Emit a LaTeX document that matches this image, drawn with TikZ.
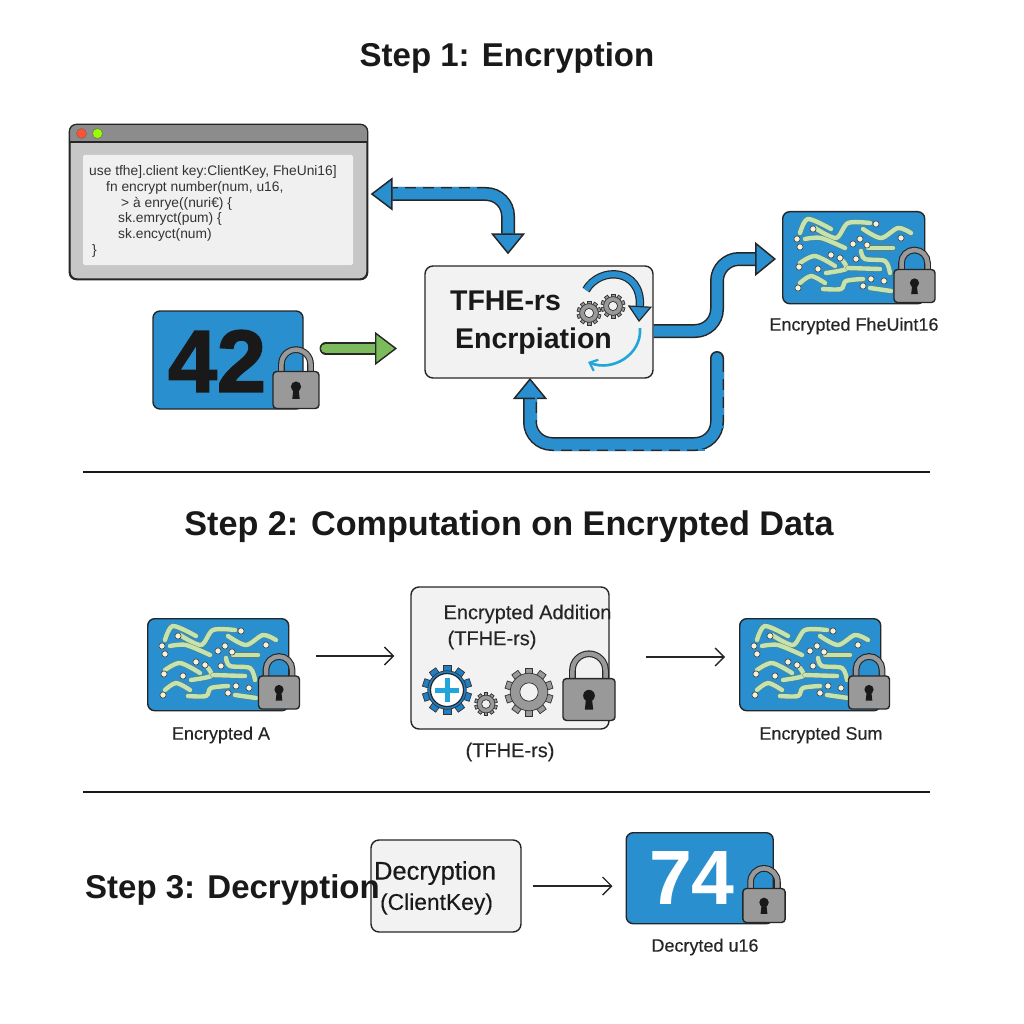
\documentclass[tikz,border=0pt]{standalone}
\usepackage{fontspec}
\setmainfont{Liberation Sans}
\newfontfamily\medfont[FakeBold=0.5]{Liberation Sans}
\newfontfamily\capfont[FakeBold=0.25]{Liberation Sans}
\newfontfamily\heavyfont[FakeBold=2]{Liberation Sans Bold}
\usetikzlibrary{arrows.meta}
\definecolor{cardblue}{HTML}{2A8FCF}
\definecolor{lockgrey}{HTML}{999999}
\definecolor{gearblue}{HTML}{1F7FC4}
\definecolor{paperbox}{HTML}{F2F2F2}
\definecolor{noisegreen}{HTML}{C5E3AE}
\definecolor{leafgreen}{HTML}{7CBB5C}
\definecolor{noisedot}{HTML}{F3F3DC}
\newcommand{\fsz}[1]{\fontsize{#1}{#1}\selectfont}

\tikzset{
    roundbox/.style={draw=black!85,line width=1.4,fill=paperbox,rounded corners=8,inner sep=0},
    cardbox/.style={draw=black!85,line width=1.4,fill=cardblue,rounded corners=7,inner sep=0},
    title/.style={font=\bfseries\fsz{33},text=black!90,inner sep=0},
    caption/.style={font=\capfont\fsz{18},text=black!85,inner sep=0},
    codeline/.style={font=\fsz{13.8},text=black!80,anchor=west,inner sep=0},
    thinarrow/.style={draw=black!85,line width=1.3,-{Straight Barb[length=9,width=18,line width=1.3]}},
    fatarrow/.style={draw=black!85,line width=1.5,double=cardblue,double distance=11,rounded corners=22,
        -{Triangle[length=21,width=34,color=black!85,fill=cardblue,line width=1.5]}},
    dashover/.style={draw=cardblue,line width=1.9,dash pattern=on 7 off 11},
    wiggle/.style={draw=noisegreen!55!black,line width=.4,double=noisegreen,double distance=4.4,line cap=round},
    speck/.style={draw=black!70,line width=.7,fill=noisedot},
    pics/padlock/.style={code={
        \draw[draw=black!85,line width=1.1,double=lockgrey,double distance=4.5] (-13,-15) -- (-13,-23) arc (180:360:13) -- (13,-15);
        \draw[draw=black!85,line width=1.4,fill=lockgrey,rounded corners=3.5] (-20.5,-16.5) rectangle (20.5,16.5);
        \fill[black!90] (0,-3) circle (4.6);
        \fill[black!90] (-2.2,-2) -- (2.2,-2) -- (3.3,8) -- (-3.3,8) -- cycle;
    }},
    pics/cogwheel/.style={code={
        \foreach \a in {0,36,...,324}
            \draw[rotate=\a,draw=black!80,line width=.7,fill=#1] (-1.9,-12) rectangle (1.9,-7);
        \draw[draw=black!80,line width=.7,fill=#1] (0,0) circle (9.4);
        \draw[draw=black!80,line width=.7,fill=paperbox] (0,0) circle (4.6);
    }},
    pics/cipher/.style={code={
        \draw[wiggle] plot[smooth] coordinates {(18,22) (26,8) (49,18)};
        \draw[wiggle] plot[smooth] coordinates {(33,17) (54,27) (66,12) (88,12)};
        \draw[wiggle] plot[smooth] coordinates {(23,28) (39,27) (63,37)};
        \draw[wiggle] plot[smooth] coordinates {(81,18) (99,27) (116,17) (129,22)};
        \draw[wiggle] plot[smooth] coordinates {(86,37) (111,37)};
        \draw[wiggle] plot[smooth] coordinates {(18,52) (33,45) (53,55)};
        \draw[wiggle] plot[smooth] coordinates {(44,62) (64,58) (61,50)};
        \draw[wiggle] plot[smooth] coordinates {(66,57) (98,58)};
        \draw[wiggle] plot[smooth] coordinates {(79,40) (83,48) (103,50) (108,62)};
        \draw[wiggle] plot[smooth] coordinates {(18,72) (29,65) (43,72)};
        \draw[wiggle] plot[smooth] coordinates {(41,78) (59,78) (64,70) (81,68)};
        \draw[wiggle] plot[smooth] coordinates {(88,77) (109,80)};
        \foreach \p in {(94,13),(31,18),(15,28),(18,36),(71,33),(78,28),(85,34),(119,27),(49,44),(58,47),(74,48),(17,56),(36,58),(16,77),(81,75),(89,68),(102,70)}
            \draw[speck] \p circle (3.1);
    }}
}

\begin{document}
\begin{tikzpicture}[x=1pt,y=-1pt]
    \useasboundingbox (0,0) rectangle (1024,1024);
    \fill[white] (0,0) rectangle (1024,1024);

    %titles and rules:
    \node[title] (stepa) at (507,58) {Step 1: Encryption};
    \node[title,font=\bfseries\fsz{34.2}] (stepb) at (509,527) {Step 2: Computation on Encrypted Data};
    \draw[black!90,line width=1.5] (83,472) -- (930,472);
    \draw[black!90,line width=1.5] (83,792) -- (930,792);

    %code window:
    \node[draw=black!85,line width=1.3,fill=black!22,rounded corners=7,inner sep=0,minimum width=297,minimum height=154] (win) at (218.5,202) {};
    \begin{scope}
        \clip[rounded corners=7] (win.north west) rectangle (win.south east);
        \fill[black!45] (70,125) rectangle (367,142);
    \end{scope}
    \draw[draw=black!85,line width=1.3,rounded corners=7] (win.north west) rectangle (win.south east);
    \draw[black!85,line width=1.2] (70,142) -- (367,142);
    \fill[black!6,rounded corners=2] (83,155) rectangle (353,265);
    \draw[black!60,fill=red!70!orange!80] (81.5,133.5) circle (5);
    \draw[black!60,fill=lime!80!green] (97.5,133.5) circle (5);
    \node[codeline] (codea) at (89,172) {use tfhe].client key:ClientKey, FheUni16]};
    \node[codeline] (codeb) at (106,188) {fn encrypt number(num, u16,};
    \node[codeline] (codec) at (121,204) {> à enrye((nuri€) \{};
    \node[codeline] (coded) at (118,219) {sk.emryct(pum) \{};
    \node[codeline] (codee) at (118,235) {sk.encyct(num)};
    \node[codeline] (codef) at (92,251) {\}};

    %plain number:
    \node[cardbox,minimum width=150,minimum height=98] (plain) at (228,360) {};
    \node[inner sep=0,font=\heavyfont\fsz{88},text=black!90] (plainnum) at (217,361) {42};
    \pic[scale=1.12] at (296,390) {padlock={}};

    %encryption box:
    \node[roundbox,minimum width=228,minimum height=112] (tfhe) at (539,322) {};
    \node[inner sep=0,font=\bfseries\fsz{28.5},text=black!90] (tfhea) at (505.5,301) {TFHE-rs};
    \node[inner sep=0,font=\bfseries\fsz{28.5},text=black!90] (tfheb) at (533.5,341) {Encrpiation};
    \pic[scale=1] at (589,313) {cogwheel=lockgrey};
    \pic[scale=1] at (613,306) {cogwheel=lockgrey};
    \coordinate (spina) at (586,290);
    \coordinate (spinb) at (639,322);
    \draw[draw=black!85,line width=1.2,double=cardblue,double distance=6,
        -{Triangle[length=16,width=24,color=black!85,fill=cardblue,line width=1.2]}]
        (spina) .. controls (600,266) and (642,268) .. (spinb);
    \coordinate (spinc) at (640,328);
    \coordinate (spind) at (588,362);
    \draw[cardblue!80!cyan,line width=2.6,-{Straight Barb[length=7,width=12,line width=2.2]}]
        (spinc) .. controls (642,355) and (612,372) .. (spind);

    %encrypted result:
    \node[cardbox,minimum width=142,minimum height=92,anchor=north west] (fhe) at (782,211) {};
    \pic at (fhe.north west) {cipher};
    \pic at (914.5,286) {padlock={}};
    \node[caption] (fhelab) at (854,326) {Encrypted FheUint16};

    %fat arrows:
    \coordinate (topbend) at (508,194);
    \draw[fatarrow,{Triangle[length=22,width=33,color=black!85,fill=cardblue,line width=1.5]}-{Triangle[length=21,width=34,color=black!85,fill=cardblue,line width=1.5]},shorten <=3,shorten >=11]
        (win.east |- topbend) -- (topbend) -- (tfhe.north -| topbend);
    \draw[dashover] (398,187.8) -- (488,187.8);
    \coordinate (rightbend) at (717,259);
    \draw[fatarrow,shorten >=6] ([yshift=-9]tfhe.east) -- (717,331) -- (rightbend) -- (fhe.west |- rightbend);
    \coordinate (loopend) at (717,358);
    \coordinate (loopin) at (530,378);
    \draw[fatarrow,line cap=round] (loopend) -- (717,444) -- (530,444) -- (loopin);
    \draw[dashover] (723.2,372) -- (723.2,428);
    \draw[dashover] (705,450.2) -- (545,450.2);
    \draw[dashover] (536.2,395) -- (536.2,425);

    %green arrow:
    \coordinate (greentip) at (397,348.5);
    \draw[draw=black!85,line width=1.4,double=leafgreen,double distance=9.5,line cap=round,
        -{Triangle[length=22,width=33,color=black!85,fill=leafgreen,line width=1.4]},shorten <=22]
        (plain.east |- greentip) -- (greentip);

    %computation row:
    \node[cardbox,minimum width=141,minimum height=92,anchor=north west] (inA) at (147,618) {};
    \pic at (inA.north west) {cipher};
    \pic at (279,692.5) {padlock={}};
    \node[caption] (inAlab) at (221,735) {Encrypted A};

    \node[roundbox,minimum width=198,minimum height=142] (add) at (510,658) {};
    \node[inner sep=0,font=\capfont\fsz{20},text=black!85] (adda) at (527.5,614) {Encrypted Addition};
    \node[inner sep=0,font=\capfont\fsz{20},text=black!85] (addb) at (492,640) {(TFHE-rs)};
    \pic[scale=2.05] at (447,690) {cogwheel=gearblue};
    \draw[black!85,line width=1.2,fill=white] (447,690) circle (16.5);
    \fill[cardblue!80!cyan] (444.5,678) rectangle (449.5,702);
    \fill[cardblue!80!cyan] (435,687.5) rectangle (459,692.5);
    \pic[scale=.95] at (486,704) {cogwheel=lockgrey};
    \pic[scale=2.0] at (529,692) {cogwheel=lockgrey};
    \pic[scale=1.27] at (589,699.5) {padlock={}};
    \node[caption,font=\capfont\fsz{20}] (addlab) at (510,752) {(TFHE-rs)};

    \node[cardbox,minimum width=141,minimum height=92,anchor=north west] (outS) at (739,618) {};
    \pic at (outS.north west) {cipher};
    \pic at (869,692.5) {padlock={}};
    \node[caption] (outSlab) at (821,735) {Encrypted Sum};

    \coordinate (rowa) at (0,656);
    \coordinate (rowb) at (0,657);
    \draw[thinarrow,shorten <=27,shorten >=16] (inA.east |- rowa) -- (add.west |- rowa);
    \draw[thinarrow,shorten <=36,shorten >=14] (add.east |- rowb) -- (outS.west |- rowb);

    %decryption row:
    \node[roundbox,minimum width=150,minimum height=92] (dec) at (446,886) {};
    \node[title,anchor=west] (stepc) at (85,890) {Step 3: Decryption};
    \node[inner sep=0,font=\medfont\fsz{25.5},text=black!90] (deca) at (435,873) {Decryption};
    \node[inner sep=0,font=\capfont\fsz{22.8},text=black!90] (decb) at (436.5,904) {(ClientKey)};
    \node[cardbox,minimum width=147,minimum height=91,anchor=north west] (plainout) at (625.5,832) {};
    \node[inner sep=0,font=\bfseries\fsz{77},text=white] (plainoutnum) at (692,878) {74};
    \pic[scale=1.03] at (764,905.5) {padlock={}};
    \node[caption] (plainoutlab) at (705,947) {Decryted u16};
    \draw[thinarrow,shorten <=11,shorten >=13] (dec.east) -- (plainout.west |- dec.east);
\end{tikzpicture}
\end{document}
